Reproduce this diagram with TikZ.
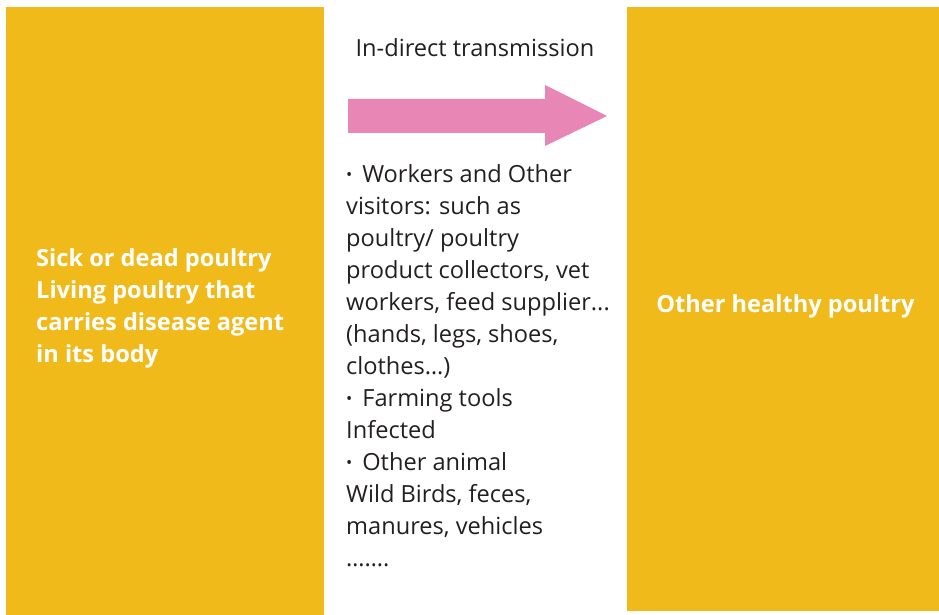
\documentclass[tikz,border=0pt]{standalone}
\usepackage{fontspec}
\setmainfont{Open Sans}
\definecolor{boxyellow}{HTML}{F0BA1B}
\definecolor{arrowpink}{HTML}{E886B5}
\definecolor{txtgray}{HTML}{231F20}
\tikzset{
  side/.style={fill=boxyellow, draw=none},
  sidetext/.style={text=white, font=\fontsize{23.6}{32}\selectfont\bfseries, align=left, inner sep=0pt},
  midtext/.style={text=txtgray, font=\fontsize{23.6}{32}\selectfont, align=left, inner sep=0pt},
}
\newcommand{\bul}{{\raisebox{0.15ex}{\scalebox{0.7}{•}}}\hspace{0.42em}}
\begin{document}
\begin{tikzpicture}[x=1pt,y=-1pt]
\useasboundingbox (0,0) rectangle (939,615);
\fill[side] (6,7) rectangle (324,615);
\fill[side] (627,7) rectangle (939,611);
\fill[arrowpink] (348,99) -- (545,99) -- (545,85) -- (607,116) -- (545,146) -- (545,133) -- (348,133) -- cycle;
\node[midtext, anchor=center] (title) at (475,48) {In-direct transmission};
\node[sidetext, anchor=west] (src) at (36,308) {Sick or dead poultry\\Living poultry that\\carries disease agent\\in its body};
\node[sidetext, anchor=center] (dst) at (785.5,306) {Other healthy poultry};
\node[midtext, anchor=west] (mid) at (346,366) {\bul Workers and Other\\visitors: such as\\poultry/ poultry\\product collectors, vet\\workers, feed supplier...\\(hands, legs, shoes,\\clothes…)\\\bul Farming tools\\Infected\\\bul Other animal\\Wild Birds, feces,\\manures, vehicles\\…….};
\end{tikzpicture}
\end{document}
